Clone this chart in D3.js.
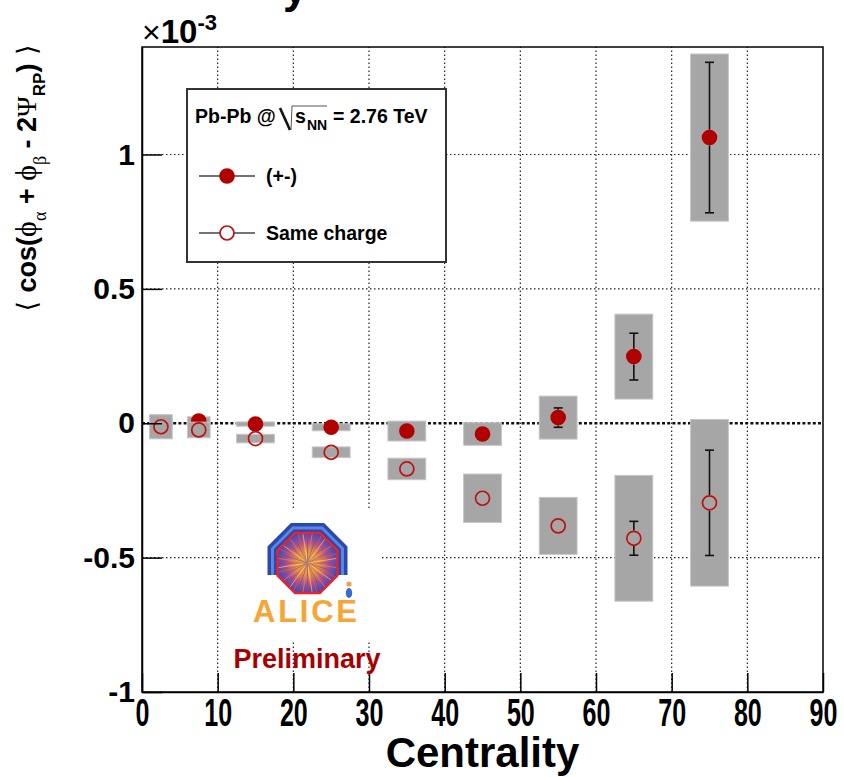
<!DOCTYPE html>
<html>
<head>
<meta charset="utf-8">
<script src="https://cdn.jsdelivr.net/npm/d3@7"></script>
<style>
  body { margin: 0; background: #fff; }
  svg { display: block; }
</style>
</head>
<body>
<div id="chart"></div>
<script>
// valores (unidades de 1e-3)
const centrality = [2.5, 7.5, 15, 25, 35, 45, 55, 65, 75];
const binWidth   = [5, 5, 10, 10, 10, 10, 10, 10, 10];

const oppValue = [0.000, 0.008, -0.003, -0.015, -0.029, -0.040, 0.021, 0.248, 1.063];
const oppStat  = [0.010, 0.010, 0.010, 0.010, 0.010, 0.012, 0.036, 0.087, 0.280];
const oppSys   = [0.020, 0.016, 0.008, 0.013, 0.037, 0.042, 0.080, 0.158, 0.311];

const sameValue = [-0.013, -0.025, -0.057, -0.108, -0.170, -0.279, -0.382, -0.428, -0.296];
const sameStat  = [0.010, 0.010, 0.010, 0.012, 0.015, 0.020, 0.025, 0.063, 0.196];
const sameSys   = [0.045, 0.029, 0.016, 0.020, 0.040, 0.090, 0.106, 0.234, 0.310];

const xTicks = [0, 10, 20, 30, 40, 50, 60, 70, 80, 90];
const yTicks = [-1, -0.5, 0, 0.5, 1];
const gridX = [10, 20, 30, 40, 50, 60, 70, 80];
const gridY = [-0.5, 0.5, 1];

const legendLabels = ["(+-)", "Same charge"];

const W = 844, H = 777;
const margin = { top: 47, right: 21, bottom: 85, left: 142 };
const FONT = '"Liberation Sans", Arial, Helvetica, sans-serif';
const SERIF = '"Liberation Serif", "DejaVu Serif", serif';
const RED = "#b00000";
const RED_OPEN = "#c01010";
const BOX = "#a6a6a6";
const R = 7.8;

const svg = d3.select("#chart").append("svg")
  .attr("width", W).attr("height", H)
  .attr("font-family", FONT);

const x = d3.scaleLinear().domain([0, 90]).range([margin.left, W - margin.right]);
const y = d3.scaleLinear().domain([-1, 1.4]).range([H - margin.bottom, margin.top]);

// título cortado arriba (solo asoma la cola de la "y")
svg.append("text").attr("x", 283).attr("y", 3)
  .attr("font-size", 44).attr("font-weight", "bold").text("y");

// cuadrícula punteada
const grid = svg.append("g").attr("stroke", "#222").attr("stroke-width", 1.2)
  .attr("stroke-dasharray", "1.5,2.5");
grid.selectAll(".gx").data(gridX).join("line")
  .attr("x1", d => x(d)).attr("x2", d => x(d))
  .attr("y1", y(-1)).attr("y2", y(1.4));
grid.selectAll(".gy").data(gridY).join("line")
  .attr("x1", x(0)).attr("x2", x(90))
  .attr("y1", d => y(d)).attr("y2", d => y(d));

// línea del cero
svg.append("line")
  .attr("x1", x(0)).attr("x2", x(90)).attr("y1", y(0)).attr("y2", y(0))
  .attr("stroke", "#111").attr("stroke-width", 2.6).attr("stroke-dasharray", "3,2.2");

const boxHalf = w => (w < 10 ? 1.5 : 2.5);

function drawSeries(vals, stat, sys, filled) {
  const g = svg.append("g");
  // cajas sistemáticas
  g.selectAll("rect").data(vals).join("rect")
    .attr("x", (d, i) => x(centrality[i] - boxHalf(binWidth[i])))
    .attr("width", (d, i) => x(centrality[i] + boxHalf(binWidth[i])) - x(centrality[i] - boxHalf(binWidth[i])))
    .attr("y", (d, i) => y(d + sys[i]))
    .attr("height", (d, i) => y(d - sys[i]) - y(d + sys[i]))
    .attr("fill", BOX).attr("stroke", "#c6c6c6").attr("stroke-width", 1);

  // barras de error estadístico (solo fuera del marcador)
  const eg = g.append("g").attr("stroke", "#111").attr("stroke-width", 1.6);
  vals.forEach((d, i) => {
    const cx = x(centrality[i]), yc = y(d), yt = y(d + stat[i]), yb = y(d - stat[i]);
    if (yc - yt <= R) return;
    eg.append("line").attr("x1", cx).attr("x2", cx).attr("y1", yt).attr("y2", yc - R);
    eg.append("line").attr("x1", cx).attr("x2", cx).attr("y1", yc + R).attr("y2", yb);
    eg.append("line").attr("x1", cx - 4.5).attr("x2", cx + 4.5).attr("y1", yt).attr("y2", yt);
    eg.append("line").attr("x1", cx - 4.5).attr("x2", cx + 4.5).attr("y1", yb).attr("y2", yb);
  });

  // marcadores
  g.selectAll("circle").data(vals).join("circle")
    .attr("cx", (d, i) => x(centrality[i])).attr("cy", d => y(d))
    .attr("r", filled ? R : R - 0.8)
    .attr("fill", filled ? RED : "none")
    .attr("stroke", filled ? "none" : RED_OPEN)
    .attr("stroke-width", 1.7);
}

drawSeries(oppValue, oppStat, oppSys, true);
drawSeries(sameValue, sameStat, sameSys, false);

// marco
svg.append("rect")
  .attr("x", x(0)).attr("y", y(1.4))
  .attr("width", x(90) - x(0)).attr("height", y(-1) - y(1.4))
  .attr("fill", "none").attr("stroke", "#000").attr("stroke-width", 1.5);

// ejes
const xAxis = svg.append("g").attr("transform", `translate(0,${y(-1)})`)
  .call(d3.axisBottom(x).tickValues(xTicks).tickSizeInner(-19).tickSizeOuter(0)
    .tickPadding(7).tickFormat(d => String(d)));
xAxis.attr("font-family", FONT).attr("font-size", 38).attr("font-weight", "bold");
xAxis.select(".domain").attr("stroke", "#000").attr("stroke-width", 1.5);
xAxis.selectAll(".tick line").attr("stroke", "#000").attr("stroke-width", 1.5);
xAxis.selectAll(".tick text").attr("fill", "#000").attr("transform", "scale(0.66,1)");

const yAxis = svg.append("g").attr("transform", `translate(${x(0)},0)`)
  .call(d3.axisLeft(y).tickValues(yTicks).tickSizeInner(-20).tickSizeOuter(0)
    .tickPadding(7).tickFormat(d => String(d)));
yAxis.attr("font-family", FONT).attr("font-size", 30).attr("font-weight", "bold");
yAxis.select(".domain").attr("stroke", "#000").attr("stroke-width", 1.5);
yAxis.selectAll(".tick line").attr("stroke", "#000").attr("stroke-width", 1.5);
yAxis.selectAll(".tick text").attr("fill", "#000");

// x10^-3
const expo = svg.append("text").attr("x", x(0)).attr("y", 43).attr("fill", "#000");
expo.append("tspan").attr("font-size", 32).text("×");
expo.append("tspan").attr("font-size", 33).attr("font-weight", "bold").text("10");
expo.append("tspan").attr("font-size", 22).attr("font-weight", "bold").attr("dy", -13).text("-3");

// títulos de ejes
svg.append("text").attr("x", (x(0) + x(90)) / 2).attr("y", 767)
  .attr("text-anchor", "middle").attr("font-size", 42).attr("font-weight", "bold")
  .text("Centrality");

const yt = svg.append("text")
  .attr("transform", "translate(36,178) rotate(-90)")
  .attr("text-anchor", "middle").attr("font-size", 27).attr("font-weight", "bold");
yt.append("tspan").attr("font-family", '"DejaVu Sans", sans-serif').attr("font-weight", "normal").text("⟨ ");
yt.append("tspan").text("cos(");
yt.append("tspan").attr("font-family", SERIF).attr("font-weight", "normal").attr("font-size", 30).text("ϕ");
yt.append("tspan").attr("font-family", SERIF).attr("font-weight", "normal").attr("font-size", 18).attr("dy", 10).text("α");
yt.append("tspan").attr("dy", -10).text(" + ");
yt.append("tspan").attr("font-family", SERIF).attr("font-weight", "normal").attr("font-size", 30).text("ϕ");
yt.append("tspan").attr("font-family", SERIF).attr("font-weight", "normal").attr("font-size", 18).attr("dy", 10).text("β");
yt.append("tspan").attr("dy", -10).text(" - 2");
yt.append("tspan").attr("font-family", SERIF).attr("font-weight", "normal").attr("font-size", 28).text("Ψ");
yt.append("tspan").attr("font-size", 17).attr("dy", 9).text("RP");
yt.append("tspan").attr("dy", -9).text(")");
yt.append("tspan").attr("font-family", '"DejaVu Sans", sans-serif').attr("font-weight", "normal").text(" ⟩");

// leyenda
const lg = svg.append("g");
lg.append("rect").attr("x", 187).attr("y", 89).attr("width", 259).attr("height", 173)
  .attr("fill", "#fff").attr("stroke", "#333").attr("stroke-width", 2);
lg.append("text").attr("x", 195).attr("y", 123).attr("font-size", 19.5).attr("font-weight", "bold").text("Pb-Pb @");
lg.append("path").attr("d", "M280,108 L290,130").attr("stroke", "#111").attr("stroke-width", 2.6).attr("fill", "none");
lg.append("path").attr("d", "M291,130 L292,106 L327,106").attr("stroke", "#555").attr("stroke-width", 1).attr("fill", "none");
lg.append("text").attr("x", 295).attr("y", 123).attr("font-size", 19.5).attr("font-weight", "bold").text("s");
lg.append("text").attr("x", 307).attr("y", 130).attr("font-size", 14).attr("font-weight", "bold").text("NN");
lg.append("text").attr("x", 333).attr("y", 123).attr("font-size", 19.5).attr("font-weight", "bold").text("= 2.76 TeV");

const entryY = [176, 233];
legendLabels.forEach((lab, i) => {
  lg.append("line").attr("x1", 199).attr("x2", 255).attr("y1", entryY[i]).attr("y2", entryY[i])
    .attr("stroke", "#444").attr("stroke-width", 1.6);
  lg.append("circle").attr("cx", 227).attr("cy", entryY[i]).attr("r", i === 0 ? R : R - 0.8)
    .attr("fill", i === 0 ? RED : "#fff").attr("stroke", i === 0 ? "none" : RED_OPEN).attr("stroke-width", 1.7);
  lg.append("text").attr("x", 266).attr("y", entryY[i] + 7).attr("font-size", 19.5)
    .attr("font-weight", "bold").text(lab);
});

// logo ALICE
const logo = svg.append("g");
logo.append("rect").attr("x", 242).attr("y", 508).attr("width", 138).attr("height", 134).attr("fill", "#fff");
const cx0 = 307.5, cy0 = 563;
const defs = svg.append("defs");
const rg = defs.append("radialGradient").attr("id", "burst");
rg.append("stop").attr("offset", "0%").attr("stop-color", "#ffe070");
rg.append("stop").attr("offset", "35%").attr("stop-color", "#f5a040");
rg.append("stop").attr("offset", "70%").attr("stop-color", "#b0508a");
rg.append("stop").attr("offset", "100%").attr("stop-color", "#4a4ab8");
const oct = (r) => d3.range(8).map(k => {
  const a = Math.PI / 8 + k * Math.PI / 4;
  const rr = r / Math.cos(Math.PI / 8);
  return [cx0 + rr * Math.cos(a), cy0 + rr * Math.sin(a)];
});
defs.append("clipPath").attr("id", "octclip").append("polygon")
  .attr("points", oct(30).map(p => p.join(",")).join(" "));
// banda azul
const band = [[-35, 12], [-35, -14.5], [-14.5, -35], [14.5, -35], [35, -14.5], [35, 12]]
  .map(p => [cx0 + p[0], cy0 + p[1]]);
logo.append("path").attr("d", d3.line()(band)).attr("fill", "none")
  .attr("stroke", "#2a48b0").attr("stroke-width", 10).attr("stroke-linejoin", "miter");
logo.append("path").attr("d", d3.line()(band)).attr("fill", "none")
  .attr("stroke", "#5a86dc").attr("stroke-width", 3).attr("stroke-linejoin", "miter");
logo.append("polygon").attr("points", oct(30).map(p => p.join(",")).join(" "))
  .attr("fill", "url(#burst)");
const rays = logo.append("g").attr("clip-path", "url(#octclip)");
const rayColors = ["#8a3fa0", "#f08a30", "#4060c0", "#e85a2a", "#ffd050"];
d3.range(0, 360, 9).forEach((a, k) => {
  const t = a * Math.PI / 180;
  rays.append("line").attr("x1", cx0).attr("y1", cy0)
    .attr("x2", cx0 + 45 * Math.cos(t)).attr("y2", cy0 + 45 * Math.sin(t))
    .attr("stroke", rayColors[k % rayColors.length]).attr("stroke-width", 0.9).attr("opacity", 0.75);
});
logo.append("polygon").attr("points", oct(30).map(p => p.join(",")).join(" "))
  .attr("fill", "none").attr("stroke", "#f0202a").attr("stroke-width", 2.4);
logo.append("circle").attr("cx", 349).attr("cy", 584).attr("r", 2.6).attr("fill", "#f0a040");
logo.append("ellipse").attr("cx", 349).attr("cy", 593).attr("rx", 3.2).attr("ry", 5).attr("fill", "#3a6ad0");
logo.append("text").attr("x", 305).attr("y", 622).attr("text-anchor", "middle")
  .attr("font-size", 31).attr("font-weight", "bold").attr("fill", "#f7a535")
  .attr("textLength", 104).text("ALICE");

svg.append("text").attr("x", 307).attr("y", 668).attr("text-anchor", "middle")
  .attr("font-size", 27).attr("font-weight", "bold").attr("fill", "#a80000")
  .text("Preliminary");
</script>
</body>
</html>
